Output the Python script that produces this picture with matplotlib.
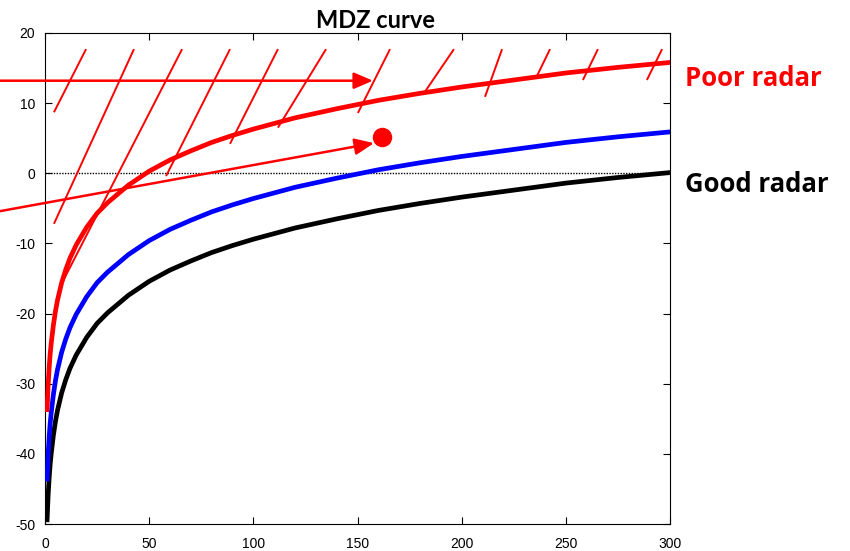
import matplotlib
matplotlib.use("Agg")
import matplotlib.pyplot as plt

plt.rcParams["axes.unicode_minus"] = False

# Range (km) and minimum detectable reflectivity (dBZ) for three radars
range_km = [1, 1.5, 2, 2.5, 3, 4, 5, 6, 8, 10, 12, 15, 20, 25, 30, 40, 50, 60, 70,
            80, 90, 100, 120, 140, 160, 180, 200, 225, 250, 275, 300]
mdz_poor = [-33.7, -30.2, -27.7, -25.7, -24.2, -21.7, -19.7, -18.1, -15.6, -13.7,
            -12.1, -10.2, -7.7, -5.7, -4.2, -1.7, 0.3, 1.9, 3.2, 4.4, 5.4, 6.3,
            7.9, 9.2, 10.4, 11.4, 12.3, 13.3, 14.3, 15.1, 15.8]
mdz_mid = [-43.6, -40.1, -37.6, -35.6, -34.1, -31.6, -29.6, -28.0, -25.5, -23.6,
           -22.0, -20.1, -17.6, -15.6, -14.1, -11.6, -9.6, -8.0, -6.7, -5.5, -4.5,
           -3.6, -2.0, -0.7, 0.5, 1.5, 2.4, 3.4, 4.4, 5.2, 5.9]
mdz_good = [-49.4, -45.9, -43.4, -41.4, -39.9, -37.4, -35.4, -33.8, -31.3, -29.4,
            -27.8, -25.9, -23.4, -21.4, -19.9, -17.4, -15.4, -13.8, -12.5, -11.3,
            -10.3, -9.4, -7.8, -6.5, -5.3, -4.3, -3.4, -2.4, -1.4, -0.6, 0.1]

# Hatch strokes marking the region above the poor-radar curve (x0, y0) -> (x1, y1)
hatch_x0 = [4.3, 4.3, 7.2, 58.1, 88.8, 111.8, 150.2, 181.4, 211.2, 235.7, 258.2, 288.9]
hatch_y0 = [8.7, -7.2, -16.2, -0.4, 4.2, 6.5, 8.6, 11.2, 10.9, 13.6, 13.3, 13.3]
hatch_x1 = [19.7, 42.7, 65.8, 88.8, 111.8, 134.9, 165.6, 196.3, 219.4, 242.4, 265.4, 296.2]
hatch_y1 = [17.7, 17.7, 17.7, 17.7, 17.7, 17.7, 17.7, 17.7, 17.7, 17.7, 17.7, 17.7]

# Arrows (start -> tip) and the target echo
arrow_start = [(-21.6, 13.2), (-21.6, -5.4)]
arrow_tip = [(157.4, 13.2), (157.9, 4.3)]
echo_x = [161.8]
echo_y = [5.2]

xticks = [0, 50, 100, 150, 200, 250, 300]
yticks = [-50, -40, -30, -20, -10, 0, 10, 20]

RED = "#ff0000"

fig = plt.figure(figsize=(8.5, 5.51), dpi=100)
ax = fig.add_axes([45 / 850, 27 / 551, 625 / 850, 491 / 551])

ax.axhline(0, color="black", lw=1.0, linestyle=(0, (1.0, 1.0)), zorder=1)

for x0, y0, x1, y1 in zip(hatch_x0, hatch_y0, hatch_x1, hatch_y1):
    ax.plot([x0, x1], [y0, y1], color=RED, lw=1.4, solid_capstyle="butt", zorder=2)

ax.plot(range_km, mdz_good, color="black", lw=3.4, zorder=3)
ax.plot(range_km, mdz_mid, color="#0000ff", lw=3.4, zorder=3)
ax.plot(range_km, mdz_poor, color=RED, lw=3.4, zorder=3)

for (sx, sy), (tx, ty) in zip(arrow_start, arrow_tip):
    ax.annotate("", xy=(tx, ty), xytext=(sx, sy), xycoords="data",
                annotation_clip=False,
                arrowprops=dict(arrowstyle="-|>,head_length=0.58,head_width=0.25",
                                mutation_scale=20, color=RED, lw=1.8,
                                shrinkA=0, shrinkB=0), zorder=4)

ax.plot(echo_x, echo_y, "o", color=RED, markersize=13, zorder=5)

ax.set_xlim(0, 300)
ax.set_ylim(-50, 20)
ax.set_xticks(xticks)
ax.set_yticks(yticks)
ax.tick_params(direction="in", top=True, right=True, length=5, width=0.8,
               labelsize=10, colors="black")
ax.tick_params(axis="x", pad=9)
ax.tick_params(axis="y", pad=7)
for lab in ax.get_xticklabels() + ax.get_yticklabels():
    lab.set_fontfamily("Liberation Sans")
for sp in ax.spines.values():
    sp.set_linewidth(0.8)

fig.text(375 / 850, 1 - 20 / 551, "MDZ curve", ha="center", va="center",
         fontsize=17, fontweight="bold", family="Lato")
fig.text(685 / 850, 1 - 78 / 551, "Poor radar", ha="left", va="center",
         fontsize=18.5, fontweight="bold", family="Open Sans", color=RED)
fig.text(685 / 850, 1 - 185 / 551, "Good radar", ha="left", va="center",
         fontsize=18.5, fontweight="bold", family="Open Sans", color="black")

fig.savefig("out.png", dpi=100)
